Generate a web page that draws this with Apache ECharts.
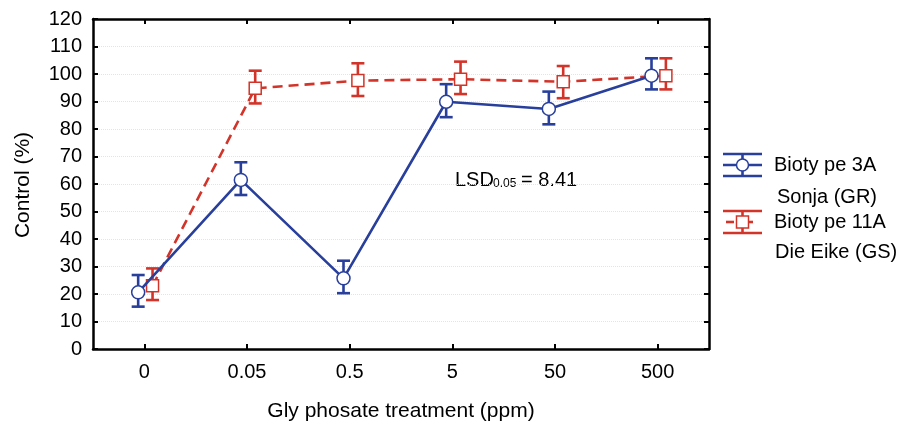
<!DOCTYPE html>
<html>
<head>
<meta charset="utf-8">
<script src="https://cdn.jsdelivr.net/npm/echarts@6/dist/echarts.min.js"></script>
<style>
html,body{margin:0;padding:0;background:#fff;}
#chart{width:911px;height:431px;}
</style>
</head>
<body>
<div id="chart"></div>
<script>
// ---- data ----
const categories = ['0', '0.05', '0.5', '5', '50', '500'];
const blueMean = [20.6, 61.5, 25.7, 89.9, 87.3, 99.4];
const blueLow  = [15.4, 56.0, 20.3, 84.3, 81.7, 94.4];
const blueHigh = [26.9, 67.9, 32.1, 96.3, 93.6, 105.7];
const redMean  = [23.0, 94.8, 97.6, 98.1, 97.2, 99.4];
const redLow   = [17.8, 89.3, 92.0, 92.7, 91.2, 94.4];
const redHigh  = [29.3, 101.2, 103.9, 104.5, 102.9, 105.7];
const yTicks = [0, 120, 10];

// ---- style ----
const BLUE = '#283f9c';
const RED = '#d2342a';
const FONT = 'Liberation Sans, Arial, sans-serif';
const BLUE_OFF = -0.06, RED_OFF = 0.08; // horizontal dodge (category units)

const chart = echarts.init(document.getElementById('chart'), null, {renderer: 'canvas'});

function pts(mean, off) { return mean.map((v, i) => [i + off, v]); }
function errData(low, high, off) { return low.map((l, i) => [i + off, l, high[i]]); }

function errRender(color) {
  return function (params, api) {
    const x = api.value(0);
    const lo = api.coord([x, api.value(1)]);
    const hi = api.coord([x, api.value(2)]);
    const hw = 6.5;
    const st = {stroke: color, lineWidth: 2.6, fill: null};
    return {
      type: 'group',
      children: [
        {type: 'line', shape: {x1: lo[0], y1: lo[1], x2: hi[0], y2: hi[1]}, style: st},
        {type: 'line', shape: {x1: lo[0] - hw, y1: lo[1], x2: lo[0] + hw, y2: lo[1]}, style: st},
        {type: 'line', shape: {x1: hi[0] - hw, y1: hi[1], x2: hi[0] + hw, y2: hi[1]}, style: st}
      ]
    };
  };
}

const axisLine = {show: true, onZero: false, lineStyle: {color: '#000', width: 2.5}};
const tickIn = {show: true, inside: true, length: 5, lineStyle: {color: '#000', width: 2}};

function legendIcon(x, y, color, kind) {
  const st = {stroke: color, lineWidth: 2.6, fill: null};
  const w = 39, cx = x + w / 2;
  const ch = [
    {type: 'line', shape: {x1: x, y1: y - 11, x2: x + w, y2: y - 11}, style: st},
    {type: 'line', shape: {x1: x, y1: y + 11, x2: x + w, y2: y + 11}, style: st},
    {type: 'line', shape: {x1: cx, y1: y - 11, x2: cx, y2: y + 11}, style: st}
  ];
  if (kind === 'circle') {
    ch.push({type: 'line', shape: {x1: x, y1: y, x2: x + w, y2: y}, style: st});
    ch.push({type: 'circle', shape: {cx: cx, cy: y, r: 6}, style: {stroke: color, lineWidth: 1.5, fill: '#fff'}});
  } else {
    ch.push({type: 'line', shape: {x1: x + 3, y1: y, x2: x + 11, y2: y}, style: st});
    ch.push({type: 'line', shape: {x1: x + 26, y1: y, x2: x + 30, y2: y}, style: st});
    ch.push({type: 'rect', shape: {x: cx - 6, y: y - 6, width: 12, height: 12}, style: {stroke: color, lineWidth: 1.5, fill: '#fff'}});
  }
  return {type: 'group', children: ch};
}

const txt = (x, y, s, size) => ({
  type: 'text', x: x, y: y,
  style: {text: s, font: 'normal ' + size + 'px ' + FONT, fill: '#000', align: 'left', verticalAlign: 'middle'}
});

const option = {
  backgroundColor: '#fff',
  animation: false,
  grid: {left: 93, right: 202, top: 19, bottom: 82},
  xAxis: [
    {type: 'category', data: categories, position: 'bottom', boundaryGap: true,
     axisLine: axisLine, axisTick: Object.assign({alignWithLabel: true}, tickIn),
     axisLabel: {color: '#000', fontSize: 20, fontFamily: FONT, margin: 13},
     splitLine: {show: false}},
    {type: 'value', min: -0.5, max: 5.5, show: false},
    {type: 'category', data: categories, position: 'top', boundaryGap: true,
     axisLine: axisLine, axisTick: Object.assign({alignWithLabel: true}, tickIn),
     axisLabel: {show: false}, splitLine: {show: false}}
  ],
  yAxis: [
    {type: 'value', min: yTicks[0], max: yTicks[1], interval: yTicks[2], position: 'left',
     axisLine: axisLine, axisTick: tickIn,
     axisLabel: {color: '#000', fontSize: 20, fontFamily: FONT, margin: 11},
     splitLine: {show: true, lineStyle: {color: '#e4e4e4', type: 'dotted', width: 1}}},
    {type: 'value', min: yTicks[0], max: yTicks[1], interval: yTicks[2], position: 'right',
     axisLine: axisLine, axisTick: tickIn, axisLabel: {show: false}, splitLine: {show: false}}
  ],
  series: [
    {type: 'custom', name: 'errRed', xAxisIndex: 1, yAxisIndex: 0, z: 2,
     renderItem: errRender(RED), data: errData(redLow, redHigh, RED_OFF)},
    {type: 'custom', name: 'errBlue', xAxisIndex: 1, yAxisIndex: 0, z: 2,
     renderItem: errRender(BLUE), data: errData(blueLow, blueHigh, BLUE_OFF)},
    {type: 'line', name: 'Biotype 11A', xAxisIndex: 1, yAxisIndex: 0, z: 3,
     data: pts(redMean, RED_OFF), symbol: 'rect', symbolSize: 12,
     lineStyle: {color: RED, width: 2.6, type: [10, 6]},
     itemStyle: {color: '#fff', borderColor: RED, borderWidth: 1.5}},
    {type: 'line', name: 'Biotype 3A', xAxisIndex: 1, yAxisIndex: 0, z: 4,
     data: pts(blueMean, BLUE_OFF), symbol: 'circle', symbolSize: 13,
     lineStyle: {color: BLUE, width: 2.6},
     itemStyle: {color: '#fff', borderColor: BLUE, borderWidth: 1.5}}
  ],
  graphic: [
    {type: 'text', x: 23, y: 185, rotation: Math.PI / 2,
     style: {text: 'Control (%)', font: 'normal 21px ' + FONT, fill: '#000', align: 'center', verticalAlign: 'middle'}},
    {type: 'text', x: 401, y: 411,
     style: {text: 'Gly phosate treatment (ppm)', font: 'normal 21px ' + FONT, fill: '#000', align: 'center', verticalAlign: 'middle'}},
    txt(455, 180, 'LSD', 20),
    txt(493, 184, '0.05', 12),
    txt(521, 180, '= 8.41', 20),
    legendIcon(723, 165, BLUE, 'circle'),
    legendIcon(723, 222, RED, 'rect'),
    txt(774, 165, 'Bioty pe 3A', 20),
    txt(777, 197, 'Sonja (GR)', 20),
    txt(774, 222, 'Bioty pe 11A', 20),
    txt(775, 252, 'Die Eike (GS)', 20)
  ]
};
chart.setOption(option);
</script>
</body>
</html>
